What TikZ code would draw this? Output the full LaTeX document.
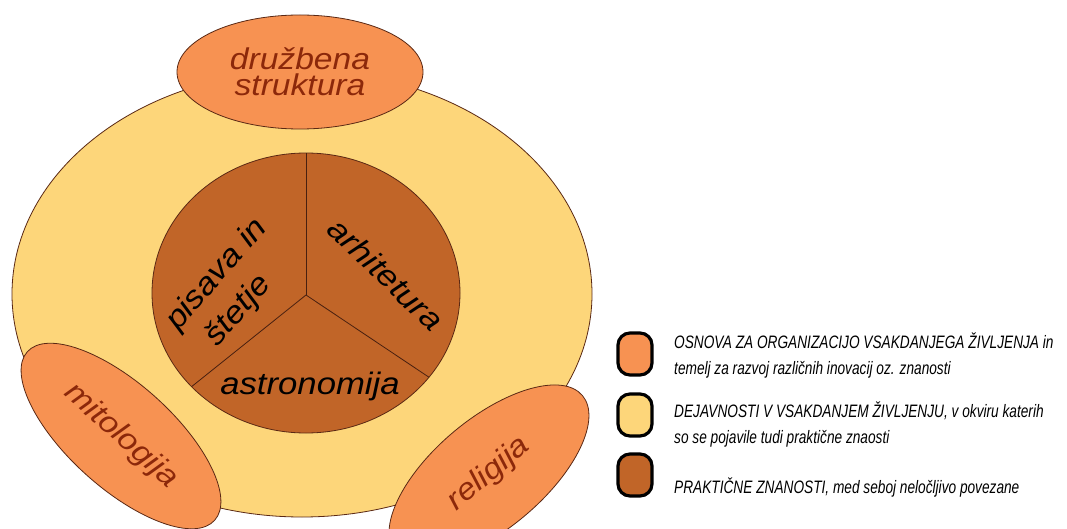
\documentclass[tikz,border=0pt]{standalone}
\usepackage{fontspec}
\setmainfont{Liberation Sans}
\newfontfamily\dfont[FakeStretch=1.12]{Liberation Sans}
\newfontfamily\lfont[FakeStretch=0.76]{Liberation Sans}
\usetikzlibrary{shapes.geometric,calc}
\definecolor{cyel}{HTML}{FDD67A}
\definecolor{corange}{HTML}{F79252}
\definecolor{cbrown}{HTML}{C16528}
\definecolor{cline}{HTML}{5A2814}
\definecolor{ctext}{HTML}{8C280A}
\begin{document}
\begin{tikzpicture}[x=1pt,y=1pt,
  outl/.style={draw=cline, line width=0.8pt},
  divline/.style={draw=cline!80!black, line width=0.8pt},
  lab/.style={font=\dfont\itshape\fontsize{30}{26}\selectfont, text=ctext, align=center, inner sep=0pt},
  ilab/.style={font=\dfont\itshape\fontsize{31}{40}\selectfont, text=black, inner sep=0pt},
  oval/.style={ellipse, outl, fill=corange, inner sep=0pt},
  legbox/.style={draw=black, line width=3.2pt, rounded corners=12pt, minimum width=34pt, minimum height=42pt, inner sep=0pt},
  legtext/.style={font=\lfont\itshape\fontsize{18}{26}\selectfont, align=left, inner sep=0pt, anchor=west}]
\useasboundingbox (0,-529) rectangle (1067,0);
\fill[white] (0,-529) rectangle (1067,0);
\clip (0,-529) rectangle (1067,0);
% outer yellow ellipse
\node[ellipse, outl, fill=cyel, minimum width=580pt, minimum height=446pt, inner sep=0pt] (outer) at (302,-294) {};
% inner brown circle
\node[ellipse, outl, fill=cbrown, minimum width=308pt, minimum height=280pt, inner sep=0pt] (inner) at (306,-293) {};
\coordinate (c) at (306,-295);
\coordinate (ll) at ($(inner.center)+(-138:154pt and 140pt)$);
\coordinate (lr) at ($(inner.center)+(-37:154pt and 140pt)$);
\draw[divline] (c) -- (inner.north);
\draw[divline] (c) -- (ll);
\draw[divline] (c) -- (lr);
% inner labels
\node[ilab, rotate=49, align=left] (pis) at (232,-288) {pisava in\\ \hspace*{14pt}štetje};
\node[ilab, rotate=-44] (arh) at (386,-274) {arhitetura};
\node[ilab] (ast) at (310,-386) {astronomija};
% orange ovals
\node[oval, lab, minimum width=246pt, minimum height=114pt] (druz) at (300,-72) {družbena\\struktura};
\node[oval, lab, rotate=-42, minimum width=252pt, minimum height=104pt] (mit) at (121,-436) {mitologija};
\node[oval, lab, rotate=40, minimum width=244pt, minimum height=110pt] (rel) at (489,-474) {religija};
% legend
\node[legbox, fill=corange] (k1) at (635,-354) {};
\node[legbox, fill=cyel] (k2) at (635,-415) {};
\node[legbox, fill=cbrown] (k3) at (635,-475) {};
\node[legtext] (t1) at (674,-355) {OSNOVA ZA ORGANIZACIJO VSAKDANJEGA ŽIVLJENJA in\\temelj za razvoj različnih inovacij oz. znanosti};
\node[legtext] (t2) at (674,-424) {DEJAVNOSTI V VSAKDANJEM ŽIVLJENJU, v okviru katerih\\so se pojavile tudi praktične znaosti};
\node[legtext] (t3) at (674,-487) {PRAKTIČNE ZNANOSTI, med seboj neločljivo povezane};
\end{tikzpicture}
\end{document}
